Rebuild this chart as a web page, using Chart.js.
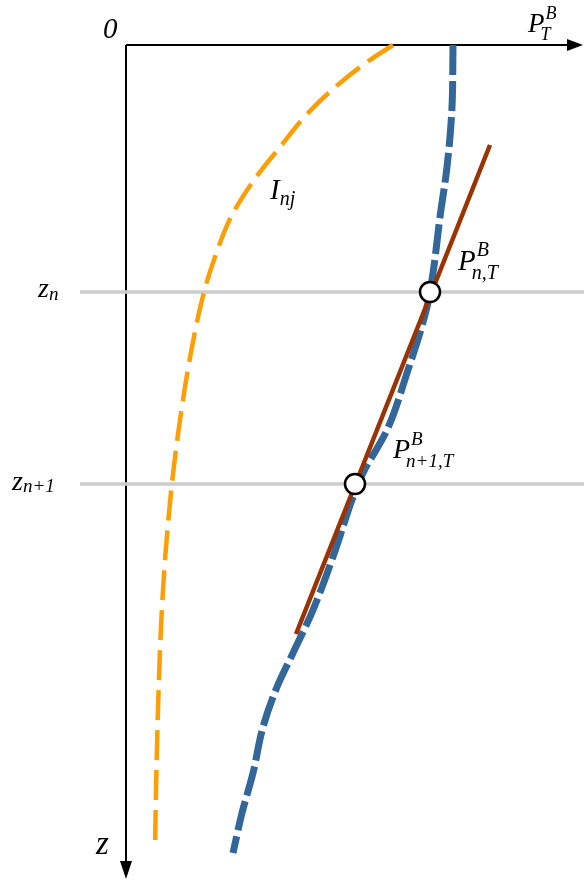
<!DOCTYPE html>
<html>
<head>
<meta charset="utf-8">
<script src="https://cdn.jsdelivr.net/npm/chart.js@4"></script>
<style>
  html, body { margin: 0; padding: 0; background: #fff; }
  canvas { display: block; }
</style>
</head>
<body>
<canvas id="myChart" width="584" height="883"></canvas>
<script>
// P (horizontal) and z (depth, downwards) in schematic units
const injP = [2.67, 2.44, 2.14, 1.82, 1.54, 1.28, 1.05, 0.89, 0.78, 0.66, 0.55, 0.46, 0.39, 0.35, 0.325, 0.305, 0.29];
const injZ = [0.00, 0.15, 0.38, 0.68, 1.02, 1.35, 1.72, 2.12, 2.47, 3.02, 3.68, 4.38, 5.15, 5.82, 6.48, 7.22, 8.04];

const pbP = [3.27, 3.26, 3.21, 3.14, 3.07, 3.01, 2.81, 2.61, 2.37, 2.27, 2.09, 1.87, 1.67, 1.51, 1.37, 1.27, 1.16, 1.07];
const pbZ = [0.00, 0.62, 1.22, 1.72, 2.28, 2.62, 3.28, 3.85, 4.28, 4.52, 5.06, 5.65, 6.08, 6.42, 6.82, 7.28, 7.68, 8.08];

const fitP = [3.64, 1.70];   // linear fit through the two nodes
const fitZ = [1.00, 5.89];

const nodeP = [3.04, 2.29];  // P at z_n and z_{n+1}
const levelZ = [2.47, 4.39]; // z_n, z_{n+1}

const axisEndP = 4.44;
const axisEndZ = 8.18;

const pts = (xs, ys) => xs.map((x, i) => ({ x: x, y: ys[i] }));

const labels = [
  { main: '0', x: -0.23, y: -0.07, size: 29 },
  { main: 'P', sup: 'B', sub: 'T', x: 4.02, y: -0.13, size: 27, dy: 0.3 },
  { main: 'I', sub: 'nj', x: 1.44, y: 1.54, size: 29, dy: 0.2 },
  { main: 'P', sup: 'B', sub: 'n,T', x: 3.32, y: 2.25, size: 29, dy: 0.3 },
  { main: 'P', sup: 'B', sub: 'n+1,T', x: 2.67, y: 4.13, size: 28, dy: 0.32 },
  { main: 'z', sub: 'n', x: -0.88, y: 2.52, size: 28, dy: 0.1 },
  { main: 'z', sub: 'n+1', x: -1.14, y: 4.45, size: 28, dy: 0.08 },
  { main: 'z', x: -0.30, y: 8.09, size: 33 }
];

const serif = '"Liberation Serif", "DejaVu Serif", serif';

const decorations = {
  id: 'decorations',
  afterDatasetsDraw(chart) {
    const ctx = chart.ctx;
    const xs = chart.scales.x, ys = chart.scales.y;
    const ox = xs.getPixelForValue(0), oy = ys.getPixelForValue(0);
    const ex = xs.getPixelForValue(axisEndP), ey = ys.getPixelForValue(axisEndZ);
    ctx.save();
    ctx.fillStyle = '#000';
    // arrow heads
    ctx.beginPath();
    ctx.moveTo(ex + 13, oy);
    ctx.lineTo(ex - 3, oy - 6);
    ctx.lineTo(ex - 3, oy + 6);
    ctx.closePath();
    ctx.fill();
    ctx.beginPath();
    ctx.moveTo(ox, ey + 16);
    ctx.lineTo(ox - 6, ey - 2);
    ctx.lineTo(ox + 6, ey - 2);
    ctx.closePath();
    ctx.fill();
    // labels
    ctx.textBaseline = 'alphabetic';
    ctx.textAlign = 'left';
    labels.forEach(l => {
      const px = xs.getPixelForValue(l.x), py = ys.getPixelForValue(l.y);
      ctx.font = 'italic ' + l.size + 'px ' + serif;
      ctx.fillText(l.main, px, py);
      const w = ctx.measureText(l.main).width;
      const s = Math.round(l.size * 0.68);
      ctx.font = 'italic ' + s + 'px ' + serif;
      if (l.sup) ctx.fillText(l.sup, px + w + 1, py - l.size * 0.48);
      if (l.sub) ctx.fillText(l.sub, px + w - (l.sup ? 4 : 0), py + l.size * l.dy);
    });
    ctx.restore();
  }
};

const ctx = document.getElementById('myChart').getContext('2d');
new Chart(ctx, {
  type: 'line',
  data: {
    datasets: [
      { // nodes
        data: pts(nodeP, levelZ),
        showLine: false,
        pointRadius: 10,
        pointBackgroundColor: '#fff',
        pointBorderColor: '#000',
        pointBorderWidth: 2.5
      },
      { // linear approximation
        data: pts(fitP, fitZ),
        borderColor: '#993300',
        borderWidth: 4.5,
        pointRadius: 0,
        tension: 0
      },
      { // blue curve
        data: pts(pbP, pbZ),
        borderColor: '#336699',
        borderWidth: 7,
        borderDash: [30, 6],
        pointRadius: 0,
        cubicInterpolationMode: 'monotone'
      },
      { // orange curve
        data: pts(injP, injZ),
        borderColor: '#ff9e00',
        borderWidth: 4.5,
        borderDash: [30, 10],
        pointRadius: 0,
        cubicInterpolationMode: 'monotone'
      },
      { // z_n level
        data: [{ x: -0.46, y: levelZ[0] }, { x: 4.6, y: levelZ[0] }],
        borderColor: '#cccccc',
        borderWidth: 3.5,
        pointRadius: 0
      },
      { // z_{n+1} level
        data: [{ x: -0.46, y: levelZ[1] }, { x: 4.6, y: levelZ[1] }],
        borderColor: '#cccccc',
        borderWidth: 3.5,
        pointRadius: 0
      },
      { // P axis
        data: [{ x: 0, y: 0 }, { x: axisEndP, y: 0 }],
        borderColor: '#000',
        borderWidth: 2,
        pointRadius: 0
      },
      { // z axis
        data: [{ x: 0, y: 0 }, { x: 0, y: axisEndZ }],
        borderColor: '#000',
        borderWidth: 2,
        pointRadius: 0
      }
    ]
  },
  options: {
    responsive: false,
    animation: false,
    clip: false,
    indexAxis: 'y',
    layout: { padding: 0, autoPadding: false },
    plugins: { legend: { display: false }, tooltip: { enabled: false } },
    scales: {
      x: { type: 'linear', display: false, min: -1.26, max: 4.58 },
      y: { type: 'linear', display: false, min: -0.45, max: 8.38, reverse: true }
    }
  },
  plugins: [decorations]
});
</script>
</body>
</html>
